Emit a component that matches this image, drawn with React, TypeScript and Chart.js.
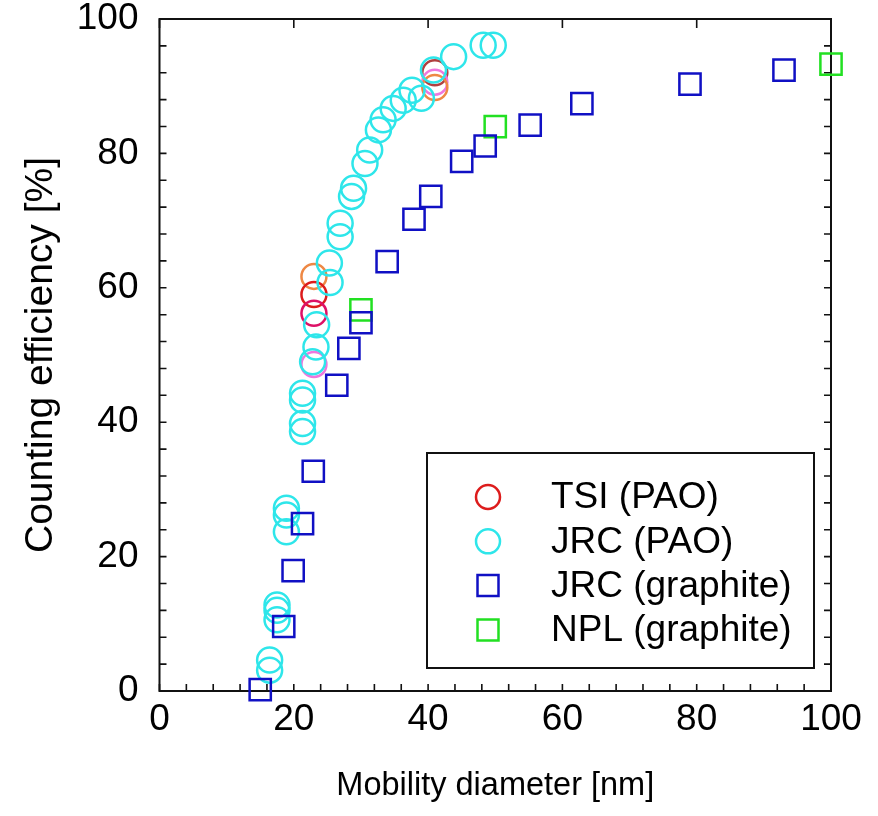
import React, { useEffect, useRef } from "react";
import { Chart, registerables } from "chart.js";

Chart.register(...registerables);

// ---------------- data ----------------
const TSI_PAO_X = [23.0, 23.0, 23.0, 23.0, 41.0, 41.0, 41.0];
const TSI_PAO_Y = [61.7, 59.0, 56.2, 48.6, 92.0, 90.6, 89.8];
const TSI_PAO_COLORS = ["#EE8844", "#DD1C1C", "#DD1166", "#EE77DD", "#B04040", "#EE77DD", "#EE8844"];

const JRC_PAO_X = [16.4, 16.4, 17.5, 17.5, 17.5, 18.9, 18.9, 18.9, 21.3, 21.3, 21.3, 21.3, 22.8, 23.3, 23.4, 25.4, 25.3, 26.9, 26.9, 28.6, 28.9, 30.6, 31.3, 32.6, 33.3, 34.8, 36.3, 37.6, 39.0, 40.8, 43.8, 48.2, 49.7];
const JRC_PAO_Y = [3.1, 4.6, 10.6, 12.0, 12.8, 23.7, 26.2, 27.2, 38.6, 39.8, 43.3, 44.3, 49.0, 51.2, 54.5, 60.8, 63.7, 67.6, 69.6, 73.6, 74.8, 78.5, 80.5, 83.5, 85.0, 86.7, 87.9, 89.4, 88.2, 92.4, 94.4, 96.1, 96.1];

const JRC_GRAPHITE_X = [15.0, 18.5, 19.9, 21.3, 22.9, 26.4, 28.2, 30.0, 33.9, 37.9, 40.4, 45.0, 48.5, 55.2, 62.9, 79.0, 93.0];
const JRC_GRAPHITE_Y = [0.2, 9.6, 17.9, 24.9, 32.7, 45.5, 51.0, 54.8, 63.9, 70.2, 73.6, 78.8, 81.1, 84.2, 87.4, 90.3, 92.4];

const NPL_GRAPHITE_X = [30.0, 50.0, 100.0];
const NPL_GRAPHITE_Y = [56.7, 84.0, 93.3];

const SERIES_LABELS = ["TSI (PAO)", "JRC (PAO)", "JRC (graphite)", "NPL (graphite)"];
const X_TITLE = "Mobility diameter [nm]";
const Y_TITLE = "Counting efficiency [%]";
const X_MAJOR_TICKS = [0, 20, 40, 60, 80, 100];
const Y_MAJOR_TICKS = [0, 20, 40, 60, 80, 100];
const MINOR_STEP = 4;

// ---------------- styles ----------------
const FONT = '"Liberation Sans", Arial, Helvetica, sans-serif';
const CYAN = "#2EE6EA";
const BLUE = "#1010C4";
const GREEN = "#22E022";
const RED = "#DD1C1C";

const toPts = (xs: number[], ys: number[]) => xs.map((x, i) => ({ x, y: ys[i] }));

const frameTicks = {
  id: "frameTicks",
  beforeDatasetsDraw(chart: any) {
    const { ctx, chartArea: a, scales } = chart;
    const xs = scales.x;
    const ys = scales.y;
    ctx.save();
    ctx.strokeStyle = "#111";
    ctx.lineWidth = 1.6;
    ctx.beginPath();
    const tl = 7;
    for (let v = 0; v <= 100; v += MINOR_STEP) {
      const px = xs.getPixelForValue(v);
      ctx.moveTo(px, a.bottom);
      ctx.lineTo(px, a.bottom - tl);
      const py = ys.getPixelForValue(v);
      ctx.moveTo(a.left, py);
      ctx.lineTo(a.left + tl, py);
      ctx.moveTo(a.right, py);
      ctx.lineTo(a.right - tl, py);
    }
    for (const v of X_MAJOR_TICKS) {
      const px = xs.getPixelForValue(v);
      ctx.moveTo(px, a.top);
      ctx.lineTo(px, a.top + 9);
    }
    ctx.stroke();
    ctx.lineWidth = 2;
    ctx.strokeRect(a.left, a.top, a.right - a.left, a.bottom - a.top);
    ctx.restore();
  },
};

const boxLegend = {
  id: "boxLegend",
  afterDatasetsDraw(chart: any) {
    const { ctx, chartArea: a } = chart;
    const bx = a.right - 404;
    const by = a.bottom - 238;
    const bw = 387;
    const bh = 215;
    ctx.save();
    ctx.fillStyle = "#fff";
    ctx.fillRect(bx, by, bw, bh);
    ctx.strokeStyle = "#111";
    ctx.lineWidth = 2;
    ctx.strokeRect(bx, by, bw, bh);
    const colors = [RED, CYAN, BLUE, GREEN];
    const shapes = ["circle", "circle", "rect", "rect"];
    SERIES_LABELS.forEach((label, i) => {
      const cy = by + 44 + i * 44.3;
      const cx = bx + 61;
      ctx.strokeStyle = colors[i];
      ctx.lineWidth = 2.5;
      ctx.beginPath();
      if (shapes[i] === "circle") {
        ctx.arc(cx, cy, 12, 0, Math.PI * 2);
      } else {
        ctx.rect(cx - 10.5, cy - 10.5, 21, 21);
      }
      ctx.stroke();
      ctx.fillStyle = "#000";
      ctx.font = `37px ${FONT}`;
      ctx.textBaseline = "middle";
      ctx.textAlign = "left";
      ctx.fillText(label, bx + 124, cy + 1);
    });
    ctx.restore();
  },
};

export default function App() {
  const ref = useRef<HTMLCanvasElement | null>(null);

  useEffect(() => {
    document.body.style.margin = "0";
    const canvas = ref.current;
    if (!canvas) return;
    const circleDs = (label: string, xs: number[], ys: number[], color: any, order: number) => ({
      label,
      data: toPts(xs, ys),
      pointStyle: "circle",
      pointRadius: 12.5,
      pointBorderWidth: 2.5,
      borderColor: color,
      pointBorderColor: color,
      backgroundColor: "rgba(0,0,0,0)",
      pointBackgroundColor: "rgba(0,0,0,0)",
      order,
      clip: false,
    });
    const rectDs = (label: string, xs: number[], ys: number[], color: string, order: number) => ({
      label,
      data: toPts(xs, ys),
      pointStyle: "rect",
      pointRadius: 15,
      pointBorderWidth: 2.5,
      borderColor: color,
      pointBorderColor: color,
      backgroundColor: "rgba(0,0,0,0)",
      pointBackgroundColor: "rgba(0,0,0,0)",
      order,
      clip: false,
    });
    const chart = new Chart(canvas, {
      type: "scatter",
      data: {
        datasets: [
          circleDs(SERIES_LABELS[0], TSI_PAO_X, TSI_PAO_Y, TSI_PAO_COLORS, 3),
          circleDs(SERIES_LABELS[1], JRC_PAO_X, JRC_PAO_Y, CYAN, 2),
          rectDs(SERIES_LABELS[2], JRC_GRAPHITE_X, JRC_GRAPHITE_Y, BLUE, 0),
          rectDs(SERIES_LABELS[3], NPL_GRAPHITE_X, NPL_GRAPHITE_Y, GREEN, 1),
        ] as any,
      },
      options: {
        responsive: false,
        animation: false,
        devicePixelRatio: 1,
        layout: { padding: { top: 19, right: 47, left: 0, bottom: 0 } },
        plugins: {
          legend: { display: false },
          tooltip: { enabled: false },
        },
        scales: {
          x: {
            type: "linear",
            min: 0,
            max: 100,
            afterBuildTicks: (s: any) => {
              s.ticks = X_MAJOR_TICKS.map((v) => ({ value: v }));
            },
            afterFit: (s: any) => {
              s.height = 125;
              s.paddingLeft = 0;
              s.paddingRight = 0;
            },
            grid: { display: false, drawTicks: false },
            border: { display: false },
            ticks: {
              color: "#000",
              padding: 7,
              maxRotation: 0,
              font: { family: FONT, size: 37 },
            },
            title: {
              display: true,
              text: X_TITLE,
              color: "#000",
              font: { family: FONT, size: 32.5 },
              padding: { top: 0, bottom: 10 },
            },
          },
          y: {
            type: "linear",
            min: 0,
            max: 100,
            afterBuildTicks: (s: any) => {
              s.ticks = Y_MAJOR_TICKS.map((v) => ({ value: v }));
            },
            afterFit: (s: any) => {
              s.width = 159.5;
              s.paddingTop = 0;
              s.paddingBottom = 0;
            },
            grid: { display: false, drawTicks: false },
            border: { display: false },
            ticks: {
              color: "#000",
              padding: 21,
              font: { family: FONT, size: 37 },
            },
            title: {
              display: true,
              text: Y_TITLE,
              color: "#000",
              font: { family: FONT, size: 39 },
              padding: { top: 18, bottom: 0 },
            },
          },
        },
      } as any,
      plugins: [frameTicks, boxLegend],
    });
    return () => chart.destroy();
  }, []);

  return (
    <div style={{ width: 878, height: 816, background: "#fff" }}>
      <canvas ref={ref} width={878} height={816} style={{ display: "block" }} />
    </div>
  );
}
